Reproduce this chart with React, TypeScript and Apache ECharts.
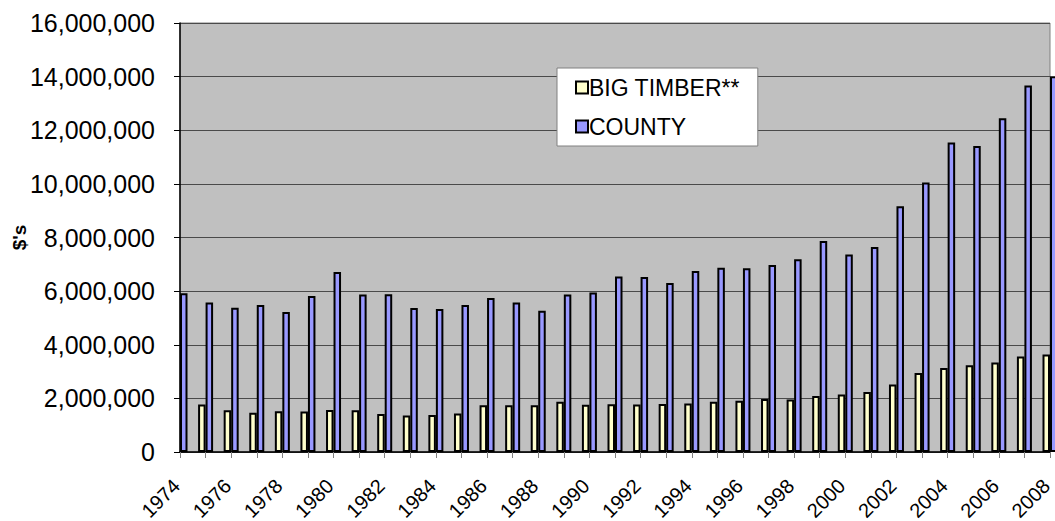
import React, { useEffect, useRef } from "react";
import * as echarts from "echarts";

const years = [
  "1974", "1975", "1976", "1977", "1978", "1979", "1980", "1981", "1982", "1983",
  "1984", "1985", "1986", "1987", "1988", "1989", "1990", "1991", "1992", "1993",
  "1994", "1995", "1996", "1997", "1998", "1999", "2000", "2001", "2002", "2003",
  "2004", "2005", "2006", "2007", "2008",
];

const bigTimber = [
  null, 1770000, 1560000, 1460000, 1520000, 1510000, 1570000, 1560000, 1420000, 1360000,
  1380000, 1440000, 1740000, 1740000, 1740000, 1870000, 1760000, 1780000, 1770000, 1790000,
  1810000, 1870000, 1910000, 1980000, 1960000, 2090000, 2140000, 2240000, 2520000, 2950000,
  3130000, 3240000, 3340000, 3560000, 3640000,
];

const county = [
  5920000, 5580000, 5380000, 5480000, 5220000, 5820000, 6710000, 5870000, 5880000, 5370000,
  5330000, 5480000, 5740000, 5580000, 5270000, 5870000, 5950000, 6550000, 6530000, 6300000,
  6750000, 6870000, 6850000, 6970000, 7190000, 7870000, 7370000, 7650000, 9170000, 10050000,
  11540000, 11410000, 12450000, 13670000, 14010000,
];

const FONT = "'Liberation Sans', Arial, sans-serif";

export default function App() {
  const ref = useRef<HTMLDivElement>(null);
  useEffect(() => {
    if (!ref.current) return;
    const chart = echarts.init(ref.current, undefined, { renderer: "svg" });
    chart.setOption({
      animation: false,
      textStyle: { fontFamily: FONT },
      grid: {
        left: 180,
        right: 5,
        top: 23,
        bottom: 69,
        containLabel: false,
        outerBoundsMode: "none",
        show: true,
        backgroundColor: "#C0C0C0",
        borderColor: "#808080",
        borderWidth: 1,
      },
      legend: {
        left: 557,
        top: 68,
        orient: "vertical",
        backgroundColor: "#FFFFFF",
        borderColor: "#808080",
        borderWidth: 1,
        borderRadius: 0,
        padding: [8, 18, 8, 18],
        itemGap: 16,
        itemWidth: 12,
        itemHeight: 12,
        icon: "rect",
        selectedMode: false,
        textStyle: { fontFamily: FONT, fontSize: 23, color: "#000", padding: [0, 0, 0, -4] },
      },
      xAxis: {
        type: "category",
        data: years,
        boundaryGap: false,
        axisLine: { lineStyle: { color: "#000", width: 1.5 } },
        axisTick: { show: true, interval: 0, length: 6, lineStyle: { color: "#808080" } },
        axisLabel: {
          interval: 1,
          rotate: 45,
          margin: 27,
          padding: [0, 5, 0, 0],
          fontSize: 20,
          color: "#000",
          fontFamily: FONT,
        },
        splitLine: { show: false },
      },
      yAxis: {
        type: "value",
        min: 0,
        max: 16000000,
        interval: 2000000,
        name: "$'s",
        nameLocation: "middle",
        nameRotate: 90,
        nameGap: 151,
        nameMoveOverlap: false,
        nameTextStyle: { fontFamily: FONT, fontSize: 19, fontWeight: "bold", color: "#000" },
        axisLine: { show: true, lineStyle: { color: "#000", width: 1.5 } },
        axisTick: { show: true, length: 6, lineStyle: { color: "#000" } },
        axisLabel: {
          margin: 25,
          fontSize: 25,
          color: "#000",
          fontFamily: FONT,
          formatter: (v: number) => v.toLocaleString("en-US"),
        },
        splitLine: { show: true, lineStyle: { color: "#4a4a4a", width: 1 } },
      },
      series: [
        {
          name: "BIG TIMBER**",
          type: "bar",
          data: bigTimber,
          barWidth: 7.5,
          barGap: "0%",
          clip: false,
          itemStyle: { color: "#FFFFCC", borderColor: "#000", borderWidth: 2 },
        },
        {
          name: "COUNTY",
          type: "bar",
          data: county,
          barWidth: 7.5,
          barGap: "0%",
          clip: false,
          itemStyle: { color: "#9999FF", borderColor: "#000", borderWidth: 2 },
        },
      ],
    });
    return () => chart.dispose();
  }, []);
  return (
    <div
      ref={ref}
      style={{ position: "fixed", left: 0, top: 0, width: 1055, height: 521, background: "#fff" }}
    />
  );
}
